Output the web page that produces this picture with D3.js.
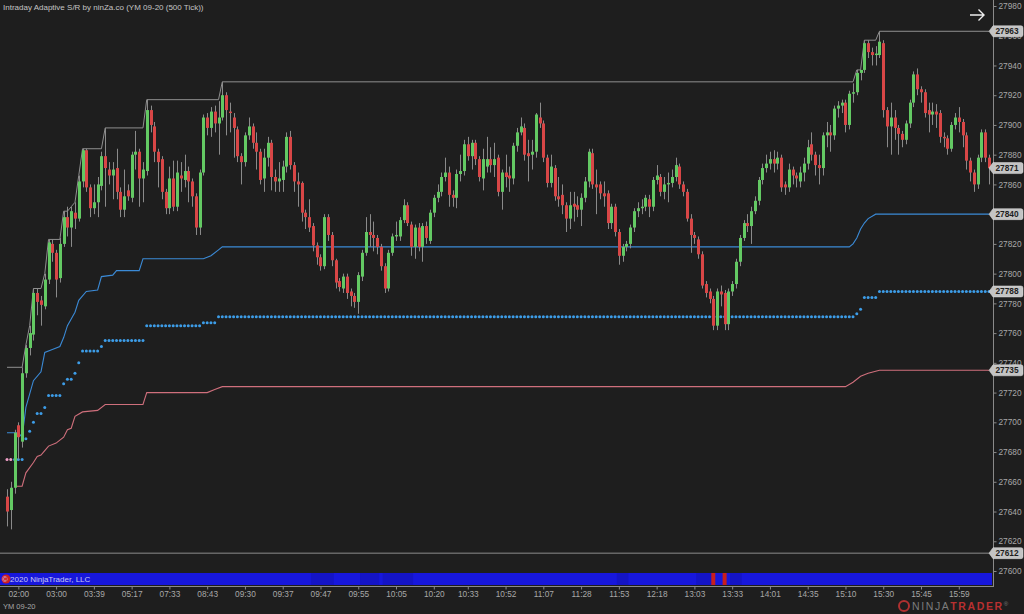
<!DOCTYPE html>
<html><head><meta charset="utf-8">
<script src="https://cdn.jsdelivr.net/npm/d3@7"></script>
<style>html,body{margin:0;padding:0;background:#1e1e1e;overflow:hidden}svg{display:block}
text{font-family:"Liberation Sans",Arial,sans-serif}</style>
</head><body><svg id="c" width="1024" height="614"></svg>
<script>
// ---------- DATA ----------
const opens=[27650,27641,27656,27698,27687,27733,27750,27759,27787,27782,
27778,27796,27820,27814,27797,27820,27838,27831,27841,27837,
27862,27883,27858,27844,27848,27859,27879,27870,27866,27871,
27855,27843,27856,27851,27880,27882,27864,27869,27910,27899,
27882,27877,27855,27844,27864,27845,27866,27863,27869,27862,
27852,27831,27868,27905,27898,27909,27901,27905,27920,27909,
27905,27897,27879,27875,27893,27899,27888,27882,27864,27878,
27888,27865,27862,27863,27872,27892,27873,27862,27861,27841,
27838,27832,27819,27811,27805,27838,27826,27809,27795,27790,
27798,27788,27785,27781,27798,27814,27828,27826,27824,27818,
27805,27790,27814,27825,27825,27836,27846,27833,27818,27831,
27818,27832,27822,27841,27851,27855,27865,27868,27853,27851,
27867,27869,27887,27879,27888,27877,27864,27872,27877,27873,
27878,27855,27868,27866,27864,27886,27895,27898,27881,27880,
27882,27905,27901,27878,27861,27871,27852,27853,27846,27837,
27847,27846,27843,27851,27862,27881,27860,27860,27854,27854,
27834,27845,27828,27812,27818,27820,27831,27842,27844,27845,
27850,27845,27863,27865,27855,27860,27861,27865,27872,27860,
27855,27837,27826,27823,27813,27793,27788,27783,27765,27788,
27787,27766,27788,27793,27808,27824,27834,27832,27842,27849,
27863,27871,27874,27877,27874,27878,27860,27858,27870,27866,
27862,27868,27874,27887,27880,27873,27871,27893,27895,27893,
27911,27913,27915,27900,27921,27922,27935,27937,27955,27949,
27947,27947,27955,27910,27899,27905,27898,27894,27890,27901,
27915,27934,27924,27922,27910,27907,27909,27908,27892,27891,
27884,27900,27905,27902,27893,27876,27868,27860,27878,27895,
27878];
const highs=[27655,27660,27695,27700,27737,27752,27765,27790,27790,27785,
27800,27823,27823,27816,27824,27842,27845,27845,27848,27866,
27884,27884,27860,27860,27865,27882,27898,27875,27875,27884,
27858,27870,27860,27882,27896,27884,27875,27917,27913,27902,
27884,27879,27857,27872,27876,27876,27875,27880,27872,27864,
27854,27870,27907,27908,27912,27913,27916,27929,27922,27915,
27908,27899,27881,27895,27905,27901,27895,27884,27884,27892,
27890,27870,27875,27876,27895,27896,27875,27868,27862,27843,
27850,27834,27821,27813,27840,27840,27828,27810,27797,27800,
27800,27790,27787,27801,27816,27838,27840,27835,27826,27820,
27807,27816,27827,27835,27838,27850,27848,27835,27833,27834,
27834,27835,27843,27853,27860,27868,27878,27872,27856,27870,
27880,27890,27892,27890,27890,27879,27884,27892,27885,27888,
27880,27870,27880,27872,27888,27898,27905,27901,27890,27890,
27908,27915,27903,27880,27880,27873,27865,27860,27848,27855,
27855,27852,27854,27865,27884,27884,27870,27862,27862,27856,
27847,27847,27830,27820,27822,27833,27844,27848,27850,27853,
27853,27865,27873,27867,27865,27868,27870,27878,27874,27862,
27857,27840,27828,27825,27815,27795,27790,27785,27790,27792,
27789,27790,27795,27810,27826,27836,27840,27845,27852,27865,
27874,27880,27882,27883,27882,27880,27862,27874,27872,27868,
27872,27878,27890,27895,27882,27880,27895,27902,27900,27913,
27916,27917,27917,27923,27928,27937,27937,27957,27957,27952,
27953,27963,27957,27912,27915,27910,27900,27896,27903,27917,
27936,27938,27926,27924,27915,27915,27914,27910,27895,27893,
27902,27908,27912,27904,27895,27878,27870,27880,27897,27897,
27880];
const lows=[27630,27628,27652,27675,27683,27730,27745,27755,27772,27765,
27776,27793,27808,27784,27794,27818,27825,27818,27830,27835,
27858,27855,27838,27840,27838,27856,27845,27860,27850,27850,
27838,27838,27849,27848,27870,27845,27848,27866,27895,27875,
27858,27850,27840,27840,27842,27842,27855,27858,27848,27845,
27826,27826,27866,27893,27892,27895,27880,27903,27893,27895,
27878,27875,27860,27872,27890,27884,27870,27860,27855,27872,
27856,27855,27855,27855,27868,27870,27855,27845,27835,27830,
27828,27815,27806,27802,27803,27822,27805,27790,27788,27787,
27783,27778,27777,27773,27795,27812,27818,27815,27813,27802,
27787,27788,27812,27822,27822,27834,27832,27812,27810,27815,
27808,27820,27820,27838,27848,27852,27862,27845,27845,27844,
27862,27866,27876,27870,27873,27862,27856,27868,27868,27865,
27852,27843,27858,27855,27860,27882,27893,27876,27862,27870,
27878,27898,27875,27858,27858,27849,27845,27840,27828,27830,
27835,27838,27832,27848,27858,27857,27840,27850,27845,27830,
27830,27825,27806,27808,27815,27817,27828,27838,27840,27842,
27838,27842,27860,27852,27850,27848,27858,27862,27857,27852,
27835,27814,27820,27810,27790,27784,27780,27762,27762,27778,
27762,27762,27785,27790,27805,27822,27828,27820,27840,27846,
27860,27868,27870,27868,27870,27855,27853,27855,27860,27858,
27858,27862,27870,27876,27866,27860,27866,27885,27882,27890,
27905,27908,27895,27897,27915,27920,27930,27935,27945,27940,
27940,27945,27905,27885,27880,27890,27880,27885,27887,27898,
27912,27920,27915,27905,27895,27900,27898,27888,27885,27880,
27882,27897,27895,27885,27870,27862,27855,27857,27875,27875,
27860];
const closes=[27640,27656,27693,27690,27733,27750,27760,27787,27781,27779,
27796,27821,27814,27796,27820,27838,27831,27842,27837,27862,
27883,27858,27844,27848,27860,27879,27871,27866,27870,27855,
27843,27852,27852,27880,27882,27864,27870,27910,27900,27882,
27875,27855,27844,27864,27845,27868,27864,27869,27862,27852,
27831,27868,27905,27898,27909,27901,27905,27920,27910,27908,
27898,27879,27875,27893,27899,27888,27882,27863,27878,27888,
27865,27862,27864,27872,27892,27873,27862,27860,27841,27838,
27831,27819,27811,27805,27838,27826,27809,27794,27791,27798,
27787,27785,27781,27799,27814,27828,27826,27824,27818,27805,
27790,27814,27825,27826,27836,27846,27834,27818,27831,27818,
27832,27824,27841,27851,27855,27865,27868,27853,27851,27867,
27869,27887,27879,27888,27877,27865,27877,27877,27873,27877,
27855,27868,27865,27864,27886,27895,27899,27880,27879,27882,
27907,27901,27878,27861,27872,27852,27850,27846,27837,27846,
27845,27843,27851,27862,27882,27860,27858,27854,27852,27834,
27845,27828,27812,27818,27820,27831,27842,27844,27845,27851,
27845,27863,27866,27855,27860,27861,27865,27873,27860,27855,
27837,27826,27824,27813,27792,27787,27783,27765,27788,27786,
27766,27788,27793,27808,27824,27834,27832,27842,27849,27863,
27871,27874,27877,27874,27878,27858,27858,27870,27866,27864,
27868,27874,27885,27880,27873,27871,27893,27895,27893,27911,
27913,27915,27900,27921,27922,27935,27937,27955,27949,27947,
27948,27956,27910,27899,27905,27898,27894,27890,27901,27915,
27934,27924,27922,27908,27907,27909,27907,27892,27891,27884,
27900,27905,27902,27893,27876,27868,27860,27878,27895,27878,
27871];

// resistance (gray) line breakpoints
const resBars=[0,4,5,6,7,9,10,11,14,15,16,17,18,19,20,25,26,36,37,56,57,224,225,226,227,230,231,260];
const resLevels=[27737,27737,27752,27765,27790,27790,27800,27823,27823,27842,27842,27845,27848,27866,27884,27884,27898,27898,27917,27917,27929,27929,27937,27937,27957,27957,27963,27963];
// upper support (blue) line breakpoints
const supBars=[0,3,4,5,7,9,10,12,14,15,16,18,19,21,24,25,28,29,35,36,52,54,56,57,223,224,225,226,227,228,230,260];
const supLevels=[27693,27693,27690,27710,27728,27734,27747,27749,27751,27757,27765,27774,27782,27788,27789,27798,27799,27802,27802,27810,27810,27812,27816,27818,27818,27820,27824,27830,27834,27837,27840,27840];
// lower support (pink) line breakpoints
const lowBars=[2,4,5,7,8,9,10,11,13,15,16,17,18,20,24,26,36,37,53,55,57,222,224,226,228,231,260];
const lowLevels=[27657,27657,27666,27673,27677,27678,27681,27684,27686,27690,27695,27696,27704,27707,27708,27712,27712,27720,27720,27722,27724,27724,27727,27731,27733,27735,27735];
// middle (dotted) level steps: start bar -> level
const midStart=[0,5,6,7,8,10,11,15,16,18,19,20,25,26,37,52,56,225,226,227,231];
const midLevel=[27675,27689,27694,27700,27706,27710,27718,27726,27729,27733,27740,27748,27751,27755,27765,27767,27771,27773,27776,27784,27788];
const floorLevel=27612;

const yTicks=[27600,27620,27640,27660,27680,27700,27720,27740,27760,27780,27800,27820,27860,27880,27900,27920,27940,27960,27980];
const timeTickBars=[3,13,23,33,43,53,63,73,83,93,103,113,122,132,142,152,162,172,182,192,202,212,222,232,242,252];
const timeLabels=["02:00","03:00","03:39","05:17","07:33","08:43","09:30","09:37","09:47","09:55","10:05","10:20","10:33","10:52","11:07","11:28","11:53","12:18","13:03","13:33","14:01","14:35","15:10","15:30","15:45","15:59"];
const markerLevels=[27963,27871,27840,27788,27735,27612];
const signalBars=[187,190];
const shadeRanges=[[81,86],[94,98],[100,107],[162,164],[183,186],[192,194]];

// ---------- CHART ----------
const svg=d3.select('#c');
const x=d3.scaleLinear().domain([0,260]).range([7,989]);
const y=d3.scaleLinear().domain([27600,27980]).range([571,6]);

svg.append('rect').attr('width',1024).attr('height',614).attr('fill','#1e1e1e');

// title
svg.append('text').attr('x',3).attr('y',10).attr('fill','#c4c4c4').attr('font-size','8px')
  .text('Intraday Adaptive S/R by ninZa.co (YM 09-20 (500 Tick))');

// floor line
svg.append('line').attr('x1',0).attr('x2',992).attr('y1',y(floorLevel)).attr('y2',y(floorLevel))
  .attr('stroke','#8c8c8c').attr('stroke-width',1);

const mkLine=(bars,levels)=>d3.line().x((d,i)=>x(bars[i])).y(d=>y(d))(levels);
svg.append('path').attr('d',mkLine(resBars,resLevels)).attr('fill','none').attr('stroke','#8f8f8f').attr('stroke-width',1);
svg.append('path').attr('d',mkLine(supBars,supLevels)).attr('fill','none').attr('stroke','#3b8ad6').attr('stroke-width',1.1);
svg.append('path').attr('d',mkLine(lowBars,lowLevels)).attr('fill','none').attr('stroke','#cf6f7c').attr('stroke-width',1.1);

// mid dotted level
const idx=d3.range(opens.length);
const midAt=i=>{let v=midLevel[0];for(let k=0;k<midStart.length;k++){if(i>=midStart[k])v=midLevel[k];}return v;};
svg.append('g').selectAll('circle').data(idx).join('circle')
  .attr('cx',i=>x(i)).attr('cy',i=>y(midAt(i))).attr('r',1.5)
  .attr('fill',i=>i<2?'#f0a0c8':'#3d9de8');

// candles
const g=svg.append('g');
g.selectAll('line').data(idx).join('line')
  .attr('x1',i=>Math.round(x(i))+0.5).attr('x2',i=>Math.round(x(i))+0.5)
  .attr('y1',i=>y(highs[i])).attr('y2',i=>y(lows[i]))
  .attr('stroke','#8a8a8a').attr('stroke-width',1);
g.selectAll('rect').data(idx).join('rect')
  .attr('x',i=>Math.round(x(i))-1).attr('width',3)
  .attr('y',i=>y(Math.max(opens[i],closes[i])))
  .attr('height',i=>Math.max(1,Math.abs(y(opens[i])-y(closes[i]))))
  .attr('fill',i=>closes[i]>opens[i]?'#63c963':(closes[i]<opens[i]?'#d84646':'#d08a3a'));

// bottom strip
svg.append('rect').attr('x',0).attr('y',573).attr('width',992).attr('height',12).attr('fill','#1717dc');
svg.append('g').selectAll('rect').data(shadeRanges).join('rect')
  .attr('x',d=>x(d[0])-2).attr('width',d=>x(d[1])-x(d[0])+4).attr('y',573).attr('height',12).attr('fill','#1414c6');
svg.append('g').selectAll('rect').data(signalBars).join('rect')
  .attr('x',d=>x(d)-2).attr('width',4).attr('y',573).attr('height',12).attr('fill','#c81e1e');
svg.append('circle').attr('cx',6).attr('cy',579).attr('r',4.5).attr('fill','#d02020');
svg.append('text').attr('x',2).attr('y',582).attr('fill','#c8c8f4').attr('font-size','8px').text('© 2020 NinjaTrader, LLC');

// axes lines
svg.append('line').attr('x1',0).attr('x2',993).attr('y1',586.5).attr('y2',586.5).attr('stroke','#8a8a8a');
svg.append('line').attr('x1',993.5).attr('x2',993.5).attr('y1',0).attr('y2',587).attr('stroke','#8a8a8a');

// right axis
const ya=svg.append('g').attr('transform','translate(993.5,0)')
  .call(d3.axisRight(y).tickValues(yTicks).tickSize(3).tickPadding(2).tickFormat(d3.format('d')));
ya.select('.domain').remove();
ya.selectAll('line').attr('stroke','#8a8a8a');
ya.selectAll('text').attr('fill','#a8a8a8').attr('font-size','8.3px').attr('font-family','"Liberation Sans",Arial,sans-serif');

// bottom axis
const xa=svg.append('g').attr('transform','translate(0,586.5)')
  .call(d3.axisBottom(x).tickValues(timeTickBars).tickSize(3).tickPadding(2).tickFormat((d,i)=>timeLabels[i]));
xa.select('.domain').remove();
xa.selectAll('line').attr('stroke','#8a8a8a');
xa.selectAll('text').attr('fill','#a8a8a8').attr('font-size','8.3px').attr('font-family','"Liberation Sans",Arial,sans-serif');

// level marker boxes
const mk=svg.append('g').selectAll('g').data(markerLevels).join('g').attr('transform',d=>`translate(0,${y(d)})`);
mk.append('path').attr('d','M989,0 L993,-5.5 L1021,-5.5 Q1023,-5.5 1023,-3.5 L1023,3.5 Q1023,5.5 1021,5.5 L993,5.5 Z')
  .attr('fill','#c4c4c4').attr('stroke','#e0e0e0').attr('stroke-width',0.5);
mk.append('text').attr('x',1007).attr('y',3).attr('text-anchor','middle').attr('font-size','8.3px')
  .attr('font-weight','bold').attr('fill','#1e1e1e').text(d=>d);

// arrow
svg.append('path').attr('d','M970,15 L984,15 M978.5,9.5 L984,15 L978.5,20.5').attr('fill','none').attr('stroke','#eeeeee').attr('stroke-width',1.4);

// footer
svg.append('text').attr('x',3).attr('y',609).attr('fill','#a8a8a8').attr('font-size','7.5px').text('YM 09-20');
svg.append('circle').attr('cx',904).attr('cy',606).attr('r',5).attr('fill','none').attr('stroke','#b03030').attr('stroke-width',2);
const lg=svg.append('text').attr('x',912).attr('y',610).attr('font-size','10.5px').attr('letter-spacing','1.6px');
lg.append('tspan').attr('fill','#7c7c7c').text('NINJA');
lg.append('tspan').attr('fill','#b83030').attr('font-weight','bold').text('TRADER');
lg.append('tspan').attr('fill','#7c7c7c').attr('font-size','6px').attr('dy','-4').text('®');
</script></body></html>
